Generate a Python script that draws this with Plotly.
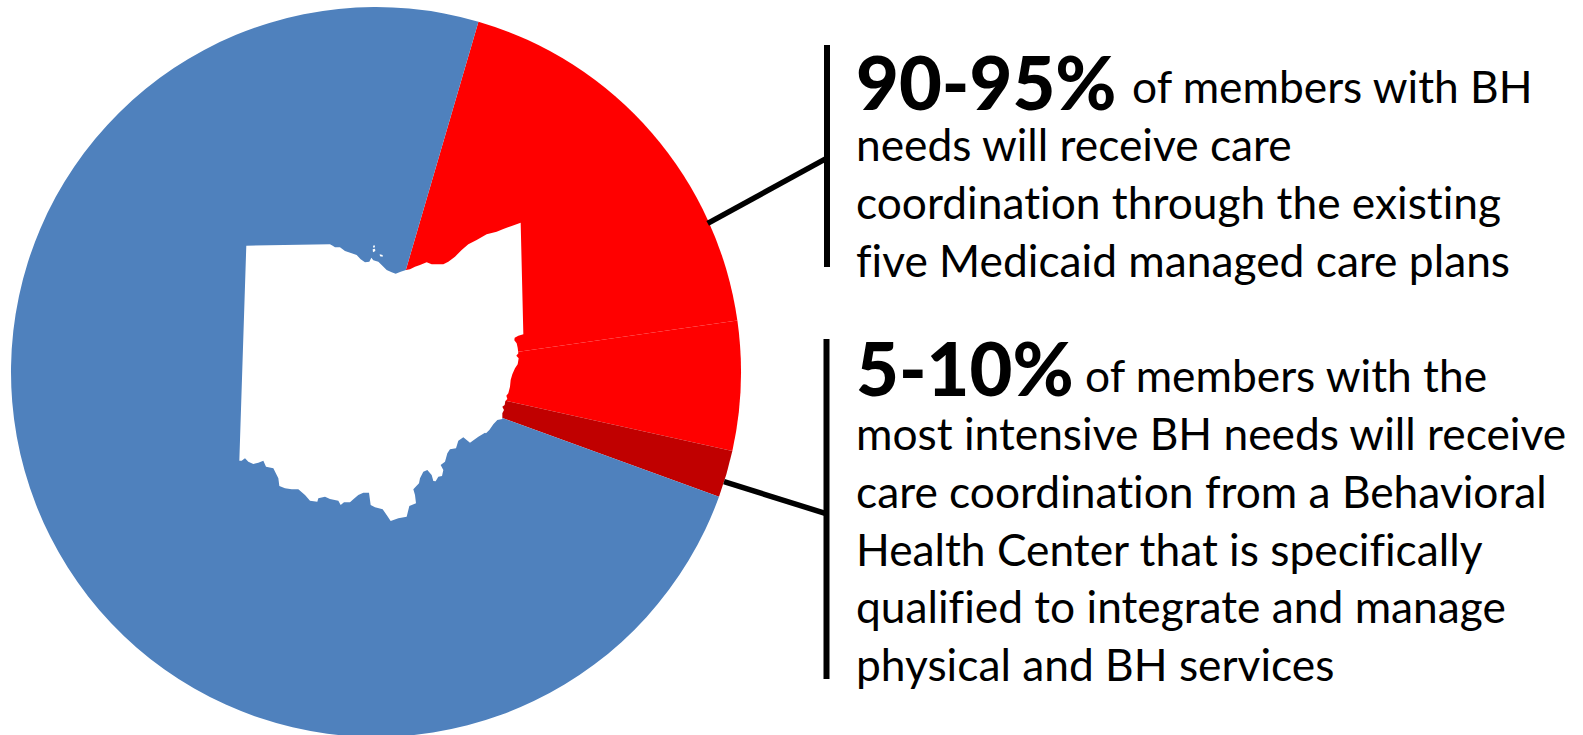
import plotly.graph_objects as go

W, H = 1583, 744

slice_names = ["Care plans A", "Care plans B", "Behavioral Health Center", "Other members"]
slice_values = [65.6, 20.6, 7.5, 266.3]
slice_colors = ["#FF0000", "#FF0000", "#C00000", "#4F81BD"]
rotation_deg = 16.3

# Ohio outline, traced piecewise: (origin x, origin y, points at 3x)
ohio_corner_nw = [(246.3, 245.7), (330, 244.3)]
ohio_north = [(0,88),(8,92),(15,97),(30,97),(45,108),(65,115),(80,120),(92,133),(105,142),(118,140),(124,128),(130,136),(145,140),(155,150),(170,165),(185,172),(197,176),(212,170),(228,165),(240,163),(255,155),(270,150),(290,142),(305,148),(325,148),(340,148),(355,140),(375,125),(395,105),(415,88),(440,75),(470,58),(500,50),(520,42),(545,33),(572,23)]
ohio_east = [(130,28),(115,32),(104,38),(103,46),(110,55),(113,68),(115,85),(109,92),(116,100),(113,118),(105,130),(97,148),(92,165),(90,185),(85,205),(79,212),(82,222),(76,228),(74,240),(67,245),(72,255),(67,265),(67,282),(52,285),(40,298),(28,315),(18,325)]
ohio_southeast = [(345,38),(325,50),(300,68),(290,60),(280,52),(265,62),(258,85),(240,88),(232,100),(225,125),(212,135),(220,150),(216,168),(205,170),(197,184),(190,183),(185,165),(172,150),(160,155),(150,175),(147,190),(130,208),(135,225),(138,250),(118,258),(110,290),(85,295),(62,303),(50,285),(38,268),(15,262)]
ohio_southwest = [(422,165),(417,128),(400,128),(385,135),(370,148),(360,157),(342,157),(332,165),(325,152),(300,147),(285,140),(265,145),(262,155),(240,152),(225,135),(205,118),(185,118),(165,115),(148,108),(145,85),(130,55),(108,50),(100,32),(85,38),(70,42),(55,35),(45,25),(35,32),(28,32)]
island_a = [(149,118),(158,120),(158,125),(150,124)]
island_b = [(129,92),(134,91),(135,97),(130,98)]
island_c = [(128,103),(135,101),(136,108),(129,112)]

def crop(pts, ox, oy):
    return [(ox + x / 3, oy + y / 3) for x, y in pts]

def to_path(pts):
    conv = [(x / W, 1 - y / H) for x, y in pts]
    return "M " + " L ".join(f"{x:.5f},{y:.5f}" for x, y in conv) + " Z"

ohio = (ohio_corner_nw + crop(ohio_north, 330, 215) + crop(ohio_east, 480, 325)
        + crop(ohio_southeast, 370, 420) + crop(ohio_southwest, 230, 450))

def px_line(x0, y0, x1, y1, width):
    return dict(type="line", xref="paper", yref="paper", layer="above",
                x0=x0 / W, x1=x1 / W, y0=1 - y0 / H, y1=1 - y1 / H,
                line=dict(color="black", width=width))

shapes = [dict(type="path", xref="paper", yref="paper", layer="above",
               path=to_path(p), fillcolor="white", line=dict(width=0))
          for p in (ohio, crop(island_a, 330, 215), crop(island_b, 330, 215), crop(island_c, 330, 215))]
shapes += [
    px_line(827, 45, 827, 267, 6),
    px_line(707.7, 223.3, 826, 158.7, 5.5),
    px_line(826.5, 339, 826.5, 679, 6),
    px_line(724, 481.7, 826, 513.6, 5.5),
]

FONT = "Lato"
REG = 44.3
BIG = 74

def label(text, x, baseline, size=REG, weight=400):
    return dict(text=text, x=x / W, y=1 - baseline / H,
                xref="paper", yref="paper", xanchor="left", yanchor="bottom",
                showarrow=False, borderpad=0, align="left",
                yshift=-size * 0.35,
                font=dict(family=FONT, size=size, color="black", weight=weight))

line_text = [
    ("of members with BH", 1131, 97.5),
    ("needs will receive care", 855, 155),
    ("coordination through the existing", 855, 213),
    ("five Medicaid managed care plans", 855, 271),
    ("of members with the", 1084, 386),
    ("most intensive BH needs will receive", 855, 444),
    ("care coordination from a Behavioral", 855, 502),
    ("Health Center that is specifically", 855, 560),
    ("qualified to integrate and manage", 855, 617),
    ("physical and BH services", 855, 675),
]
big_text = [("90-95%", 855, 101), ("5-10%", 855, 387.5)]

annotations = [label(*t) for t in line_text] + [label(t, x, b, BIG, 900) for t, x, b in big_text]

fig = go.Figure(go.Pie(
    labels=slice_names, values=slice_values, sort=False, direction="clockwise",
    rotation=rotation_deg, textinfo="none", showlegend=False, hoverinfo="skip",
    marker=dict(colors=slice_colors, line=dict(width=0)),
    domain=dict(x=[11 / W, 741 / W], y=[0, 1]),
))
fig.update_layout(width=W, height=H, autosize=False, margin=dict(l=0, r=0, t=0, b=0),
                  paper_bgcolor="white", plot_bgcolor="white",
                  shapes=shapes, annotations=annotations, showlegend=False)
fig.write_html("out.html", config=dict(displayModeBar=False),
               post_script="document.body.style.margin='0';document.documentElement.style.overflow='hidden';document.body.style.overflow='hidden';var s=document.createElement('style');s.textContent='svg text{font-variant-ligatures:none !important;font-feature-settings:\"liga\" 0,\"clig\" 0,\"calt\" 0,\"dlig\" 0 !important}';document.head.appendChild(s);")
